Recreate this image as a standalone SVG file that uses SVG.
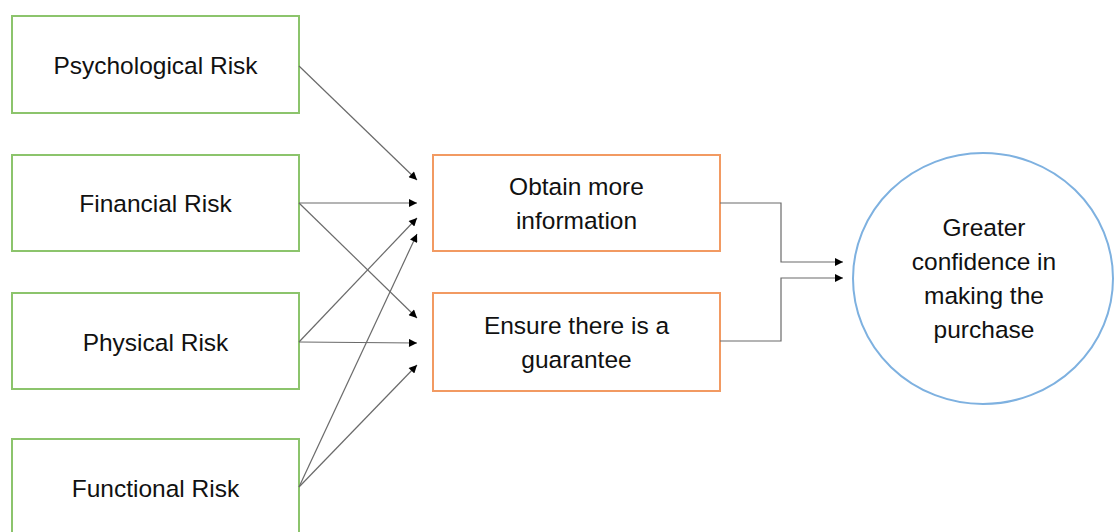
<svg xmlns="http://www.w3.org/2000/svg" width="1117" height="532" viewBox="0 0 1117 532">
  <style>
    .risk { fill: #ffffff; stroke: #8cc46c; stroke-width: 2; }
    .action { fill: #ffffff; stroke: #f29a62; stroke-width: 2; }
    .goal { fill: #ffffff; stroke: #7eb1e0; stroke-width: 2; }
    text { font-family: "Liberation Sans", Arial, sans-serif; font-size: 24.5px; fill: #111111; text-anchor: middle; }
    .conn { fill: none; stroke: #6a6a6a; stroke-width: 1.2; marker-end: url(#arrow); }
  </style>
  <defs>
    <marker id="arrow" viewBox="0 0 10 10" refX="10" refY="5" markerWidth="10" markerHeight="8" markerUnits="userSpaceOnUse" orient="auto">
      <path d="M0,0 L10,5 L0,10 Z" fill="#000000"/>
    </marker>
  </defs>
  <rect width="1117" height="532" fill="#ffffff"/>

  <g id="psychological-risk">
    <rect class="risk" x="12" y="16" width="287" height="97"/>
    <text x="155.5" y="74">Psychological Risk</text>
  </g>
  <g id="financial-risk">
    <rect class="risk" x="12" y="155" width="287" height="96"/>
    <text x="155.5" y="212">Financial Risk</text>
  </g>
  <g id="physical-risk">
    <rect class="risk" x="12" y="293" width="287" height="96"/>
    <text x="155.5" y="351">Physical Risk</text>
  </g>
  <g id="functional-risk">
    <rect class="risk" x="12" y="439" width="287" height="100"/>
    <text x="155.5" y="497">Functional Risk</text>
  </g>

  <g id="obtain-information">
    <rect class="action" x="433" y="155" width="287" height="96"/>
    <text x="576.5" y="195">Obtain more</text>
    <text x="576.5" y="229">information</text>
  </g>
  <g id="ensure-guarantee">
    <rect class="action" x="433" y="293" width="287" height="98"/>
    <text x="576.5" y="334">Ensure there is a</text>
    <text x="576.5" y="368">guarantee</text>
  </g>

  <g id="greater-confidence">
    <ellipse class="goal" cx="983" cy="278.5" rx="130" ry="125.5"/>
    <text x="984" y="236">Greater</text>
    <text x="984" y="270">confidence in</text>
    <text x="984" y="304">making the</text>
    <text x="984" y="338">purchase</text>
  </g>

  <g id="connectors">
    <line class="conn" x1="299" y1="66" x2="417" y2="180"/>
    <line class="conn" x1="299" y1="203" x2="417" y2="203"/>
    <line class="conn" x1="299" y1="203" x2="417" y2="318"/>
    <line class="conn" x1="299" y1="342" x2="417" y2="218"/>
    <line class="conn" x1="299" y1="342" x2="417" y2="343"/>
    <line class="conn" x1="299" y1="487" x2="417" y2="234"/>
    <line class="conn" x1="299" y1="487" x2="417" y2="365"/>
    <polyline class="conn" points="720,203 781,203 781,262 843,262"/>
    <polyline class="conn" points="720,341 781,341 781,278 843,278"/>
  </g>
</svg>
